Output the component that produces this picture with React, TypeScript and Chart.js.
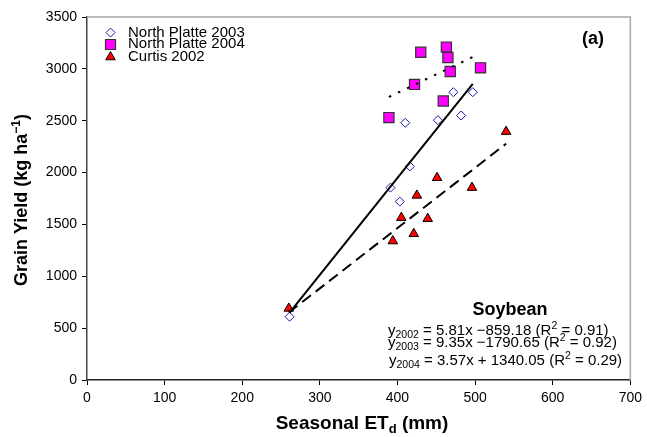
import React, { useEffect, useRef } from 'react';
import { Chart, registerables } from 'chart.js';

Chart.register(...registerables);

// ---- data ----
const seriesLabels = ['North Platte 2003', 'North Platte 2004', 'Curtis 2002'];

const np2003X = [261, 391, 403, 410, 416, 452, 472, 482, 497];
const np2003Y = [610, 1855, 1720, 2480, 2060, 2505, 2775, 2550, 2775];

const np2004X = [389, 422, 430, 459, 463, 465, 468, 507];
const np2004Y = [2530, 2850, 3160, 2690, 3210, 3110, 2975, 3010];

const curtis2002X = [260, 394, 405, 421, 425, 439, 451, 496, 540];
const curtis2002Y = [690, 1340, 1565, 1410, 1780, 1555, 1950, 1855, 2395];

// regression fits: slope, intercept, x range of the drawn trend line
const fit2002 = { slope: 5.81, intercept: -859.18, from: 260, to: 540 };
const fit2003 = { slope: 9.35, intercept: -1790.65, from: 261, to: 497 };
const fit2004 = { slope: 3.57, intercept: 1340.05, from: 389, to: 505 };

const equationYears = ['2002', '2003', '2004'];
const equationBodies = [' = 5.81x \u2212859.18 (R', ' = 9.35x \u22121790.65 (R', ' = 3.57x + 1340.05 (R'];
const equationR2 = [' = 0.91)', ' = 0.92)', ' = 0.29)'];

const xTicks = [0, 100, 200, 300, 400, 500, 600, 700];
const yTicks = [0, 500, 1000, 1500, 2000, 2500, 3000, 3500];

const FONT = 'Arial, "Liberation Sans", sans-serif';

const toPoints = (xs: number[], ys: number[]) => xs.map((x, i) => ({ x, y: ys[i] }));
const fitLine = (f: { slope: number; intercept: number; from: number; to: number }) => [
  { x: f.from, y: f.slope * f.from + f.intercept },
  { x: f.to, y: f.slope * f.to + f.intercept },
];

type Seg = { t: string; size: number; bold?: boolean; dy?: number };

function drawRich(ctx: CanvasRenderingContext2D, x: number, y: number, segs: Seg[], align: 'left' | 'center') {
  let total = 0;
  for (const s of segs) {
    ctx.font = `${s.bold ? 'bold ' : ''}${s.size}px ${FONT}`;
    total += ctx.measureText(s.t).width;
  }
  let cx = align === 'center' ? x - total / 2 : x;
  for (const s of segs) {
    ctx.font = `${s.bold ? 'bold ' : ''}${s.size}px ${FONT}`;
    ctx.fillText(s.t, cx, y + (s.dy || 0));
    cx += ctx.measureText(s.t).width;
  }
}

function drawMarker(ctx: CanvasRenderingContext2D, kind: string, x: number, y: number) {
  ctx.save();
  ctx.beginPath();
  if (kind === 'rectRot') {
    const r = 4.5;
    ctx.moveTo(x - r, y);
    ctx.lineTo(x, y - r);
    ctx.lineTo(x + r, y);
    ctx.lineTo(x, y + r);
    ctx.closePath();
    ctx.fillStyle = '#ffffff';
    ctx.fill();
    ctx.strokeStyle = '#1a1aa6';
    ctx.lineWidth = 1;
    ctx.stroke();
  } else if (kind === 'rect') {
    const h = 5;
    ctx.rect(x - h, y - h, 2 * h, 2 * h);
    ctx.fillStyle = '#ff00ff';
    ctx.fill();
    ctx.strokeStyle = '#333333';
    ctx.lineWidth = 1.2;
    ctx.stroke();
  } else {
    const r = 5.5;
    ctx.moveTo(x, y - r);
    ctx.lineTo(x + r * 0.866, y + r * 0.5);
    ctx.lineTo(x - r * 0.866, y + r * 0.5);
    ctx.closePath();
    ctx.fillStyle = '#ff0000';
    ctx.fill();
    ctx.strokeStyle = '#000000';
    ctx.lineWidth = 1;
    ctx.stroke();
  }
  ctx.restore();
}

const decorPlugin = {
  id: 'decor',
  afterDraw(chart: any) {
    const ctx: CanvasRenderingContext2D = chart.ctx;
    const a = chart.chartArea;
    ctx.save();
    // top and right frame
    ctx.strokeStyle = '#a8a8a8';
    ctx.lineWidth = 1.5;
    ctx.beginPath();
    ctx.moveTo(a.left, a.top);
    ctx.lineTo(a.right, a.top);
    ctx.lineTo(a.right, a.bottom);
    ctx.stroke();

    ctx.fillStyle = '#000000';
    ctx.textBaseline = 'alphabetic';

    // legend
    const kinds = ['rectRot', 'rect', 'triangle'];
    const rowsY = [32.5, 44.5, 57];
    const baseY = [36.5, 48, 61];
    for (let i = 0; i < seriesLabels.length; i++) {
      drawMarker(ctx, kinds[i], 110.5, rowsY[i]);
      ctx.font = `15px ${FONT}`;
      ctx.textAlign = 'left';
      ctx.fillStyle = '#000';
      ctx.fillText(seriesLabels[i], 128, baseY[i]);
    }

    // (a)
    ctx.font = `bold 18px ${FONT}`;
    ctx.textAlign = 'left';
    ctx.fillText('(a)', 582, 44);

    // Soybean + equations
    drawRich(ctx, 510, 315, [{ t: 'Soybean', size: 18, bold: true }], 'center');
    const eqBase = [335, 347, 365];
    const eqX = [388, 388, 389];
    for (let i = 0; i < 3; i++) {
      drawRich(
        ctx,
        eqX[i],
        eqBase[i],
        [
          { t: 'y', size: 15 },
          { t: equationYears[i], size: 10.5, dy: 3 },
          { t: equationBodies[i], size: 15 },
          { t: '2', size: 10.5, dy: -6 },
          { t: equationR2[i], size: 15 },
        ],
        'left'
      );
    }

    // x title
    drawRich(
      ctx,
      362,
      429,
      [
        { t: 'Seasonal ET', size: 19, bold: true },
        { t: 'd', size: 13, bold: true, dy: 4 },
        { t: ' (mm)', size: 19, bold: true },
      ],
      'center'
    );

    // y title
    ctx.save();
    ctx.translate(27, 200);
    ctx.rotate(-Math.PI / 2);
    drawRich(
      ctx,
      0,
      0,
      [
        { t: 'Grain Yield (kg ha', size: 18, bold: true },
        { t: '\u22121', size: 12, bold: true, dy: -7 },
        { t: ')', size: 18, bold: true },
      ],
      'center'
    );
    ctx.restore();
    ctx.restore();
  },
};

export default function App() {
  const ref = useRef<HTMLCanvasElement | null>(null);

  useEffect(() => {
    if (!ref.current) return;
    const lineBase = {
      type: 'line' as const,
      showLine: true,
      pointRadius: 0,
      borderColor: '#000000',
      borderWidth: 2,
      fill: false,
      order: 0,
    };
    const chart = new Chart(ref.current, {
      type: 'scatter',
      data: {
        datasets: [
          {
            label: seriesLabels[0],
            data: toPoints(np2003X, np2003Y),
            pointStyle: 'rectRot',
            pointRadius: 4.5,
            backgroundColor: '#ffffff',
            borderColor: '#1a1aa6',
            borderWidth: 1,
            order: 3,
          },
          {
            label: seriesLabels[1],
            data: toPoints(np2004X, np2004Y),
            pointStyle: 'rect',
            pointRadius: 7.2,
            backgroundColor: '#ff00ff',
            borderColor: '#333333',
            borderWidth: 1.2,
            order: 2,
          },
          {
            label: seriesLabels[2],
            data: toPoints(curtis2002X, curtis2002Y),
            pointStyle: 'triangle',
            pointRadius: 5.5,
            backgroundColor: '#ff0000',
            borderColor: '#000000',
            borderWidth: 1,
            order: 1,
          },
          { ...lineBase, label: 'fit 2003', data: fitLine(fit2003), borderDash: [] } as any,
          { ...lineBase, label: 'fit 2002', data: fitLine(fit2002), borderDash: [11, 6] } as any,
          { ...lineBase, label: 'fit 2004', data: fitLine(fit2004), borderDash: [2.5, 7.5] } as any,
        ],
      },
      options: {
        responsive: false,
        animation: false,
        layout: { padding: { left: 0, top: 17, right: 14, bottom: 0 } },
        plugins: { legend: { display: false }, tooltip: { enabled: false } },
        scales: {
          x: {
            type: 'linear',
            min: 0,
            max: 700,
            afterBuildTicks: (s: any) => {
              s.ticks = xTicks.map((v) => ({ value: v }));
            },
            afterFit: (s: any) => {
              s.height = 57;
            },
            ticks: {
              color: '#000',
              font: { family: FONT, size: 14 },
              padding: 5,
              maxRotation: 0,
              autoSkip: false,
              callback: (v: any) => String(v),
            },
            grid: { display: true, drawOnChartArea: false, drawTicks: true, tickLength: 5, color: '#000' },
            border: { display: true, color: '#222', width: 1.5 },
          },
          y: {
            type: 'linear',
            min: 0,
            max: 3500,
            afterBuildTicks: (s: any) => {
              s.ticks = yTicks.map((v) => ({ value: v }));
            },
            afterFit: (s: any) => {
              s.width = 87;
            },
            ticks: {
              color: '#000',
              font: { family: FONT, size: 14 },
              padding: 5,
              autoSkip: false,
              callback: (v: any) => String(v),
            },
            grid: { display: true, drawOnChartArea: false, drawTicks: true, tickLength: 5, color: '#000' },
            border: { display: true, color: '#444', width: 1.5 },
          },
        },
      },
      plugins: [decorPlugin],
    } as any);
    return () => chart.destroy();
  }, []);

  return (
    <div style={{ position: 'absolute', left: 0, top: 0, width: 647, height: 437, background: '#fff' }}>
      <canvas ref={ref} width={647} height={437} style={{ display: 'block' }} />
    </div>
  );
}
